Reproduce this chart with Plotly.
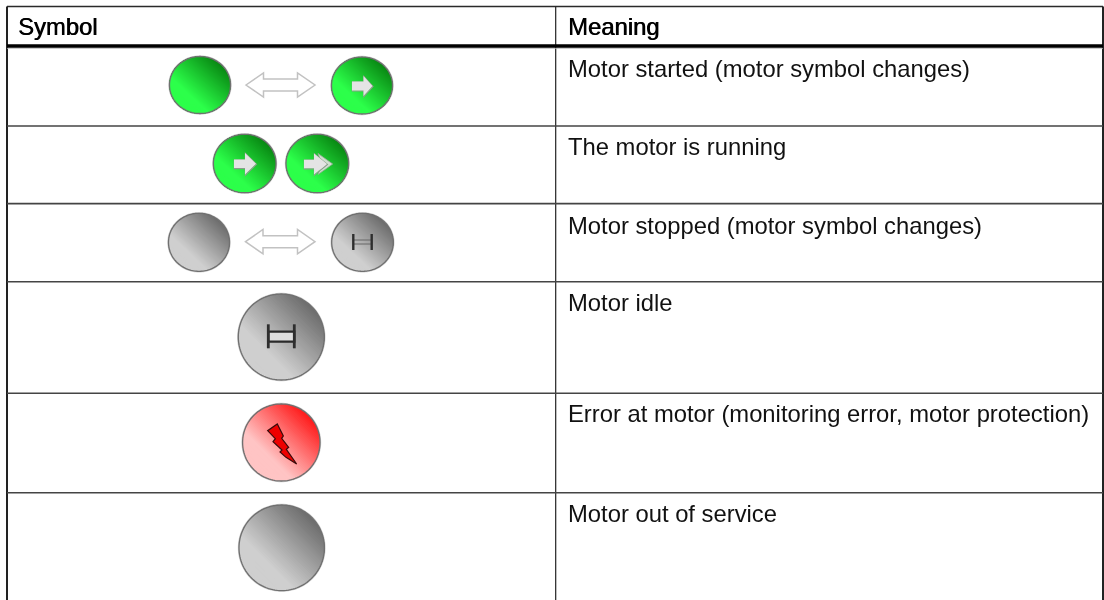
import numpy as np
import plotly.graph_objects as go

# ---- content -------------------------------------------------------------
headers = ["Symbol", "Meaning"]
meanings = [
    "Motor started (motor symbol changes)",
    "The motor is running",
    "Motor stopped (motor symbol changes)",
    "Motor idle",
    "Error at motor (monitoring error, motor protection)",
    "Motor out of service",
]

# ---- table geometry (pixel-based data axis) ------------------------------
W, H = 1104, 600
LEFT, DIV, RIGHT, TOP, HEAD = 7, 555.7, 1103, 6.5, 46
row_lines = [126, 203.6, 281.7, 393.3, 492.7]
header_cap_mid = [26.8, 26.8]
meaning_cap_mid = [68.5, 146.5, 225, 302.5, 413.5, 513.5]
COL0_X, COL1_X = 16, 565.5
FONT = "Liberation Sans, Arial, sans-serif"
FS = 23.8

PAL = {
    "green": ("#0a8a14", "#2cff4a"),
    "grey": ("#6e6e6e", "#cfcfcf"),
    "red": ("#ff1c1c", "#ffc4c4"),
}
# cx, cy, rx, ry, palette
circles = [
    (200, 85, 30.5, 28.5, "green"), (362, 85.5, 30.5, 28.5, "green"),
    (244.7, 163.5, 31.3, 29.2, "green"), (317.3, 163.5, 31.3, 29.2, "green"),
    (199, 242.3, 30.5, 29, "grey"), (362.5, 242.3, 30.8, 29, "grey"),
    (281.3, 337, 43, 43, "grey"),
    (281.3, 442.5, 38.7, 38.5, "red"),
    (281.7, 547.8, 42.7, 42.8, "grey"),
]


def hex2rgb(h):
    return np.array([int(h[i:i + 2], 16) for i in (1, 3, 5)], float)


def poly(pts):
    return "M " + " L ".join(f"{x:.2f},{y:.2f}" for x, y in pts) + " Z"


shapes = []


def add_path(pts, fill=None, line=None, lw=1.0):
    shapes.append(dict(type="path", path=poly(pts), xref="x", yref="y", layer="above",
                       fillcolor=fill if fill else "rgba(0,0,0,0)",
                       line=dict(color=line if line else "rgba(0,0,0,0)", width=lw if line else 0)))


def add_line(x0, y0, x1, y1, color, lw):
    shapes.append(dict(type="line", x0=x0, y0=y0, x1=x1, y1=y1, xref="x", yref="y", layer="above",
                       line=dict(color=color, width=lw)))


def add_circle(cx, cy, rx, ry, pal):
    dark, bright = (hex2rgb(c) for c in PAL[pal])
    th = np.linspace(0, 2 * np.pi, 120, endpoint=False)
    ux, uy = np.cos(th), np.sin(th)
    outline = [(cx + rx * a, cy + ry * b) for a, b in zip(ux, uy)]
    add_path(outline, line="#d0d0d0", lw=2.4)
    n = 48
    add_path(outline, fill="rgb(%d,%d,%d)" % tuple(dark))
    for i in range(1, n):
        t0 = -1 + 2 * i / n
        f = min(1.0, (t0 + 1) / 1.45) ** 1.0
        col = dark + (bright - dark) * f
        # circular segment beyond the chord at t0, perpendicular to the lower-left direction
        half = np.arccos(np.clip(t0, -1, 1))
        a = np.linspace(-half, half, 40) + 3 * np.pi / 4
        pts = [(cx + rx * np.cos(v), cy + ry * np.sin(v)) for v in a]
        add_path(pts, fill="rgb(%d,%d,%d)" % tuple(col))
    add_path(outline, line="#707070", lw=1.3)


def double_arrow(x0, x1, cy, neck, hh, sh):
    pts = [(x0, cy), (x0 + neck, cy - hh), (x0 + neck, cy - sh), (x1 - neck, cy - sh),
           (x1 - neck, cy - hh), (x1, cy), (x1 - neck, cy + hh), (x1 - neck, cy + sh),
           (x0 + neck, cy + sh), (x0 + neck, cy + hh)]
    add_path(pts, fill="#ffffff", line="#c2c2c2", lw=1.5)


def right_arrow(x0, neck, tip, cy, hh, sh, fill="#e4e4e4"):
    pts = [(x0, cy - sh), (neck, cy - sh), (neck, cy - hh), (tip, cy), (neck, cy + hh), (neck, cy + sh), (x0, cy + sh)]
    add_path([(x + 0.4, y + 0.5) for x, y in pts], line="#8c9c8c", lw=1.2)
    add_path(pts, fill=fill)


def h_icon(x0, x1, y0, y1, by0, by1, lw, box=True):
    if box:
        add_path([(x0, by0), (x1, by0), (x1, by1), (x0, by1)], fill="#dedede", line="#2a2a2a", lw=2.2)
    else:
        add_line(x0, (y0 + y1) / 2 - 2, x1, (y0 + y1) / 2 - 2, "#666666", 1)
        add_line(x0, (y0 + y1) / 2 + 2, x1, (y0 + y1) / 2 + 2, "#666666", 1)
    add_line(x0, y0, x0, y1, "#2e2e2e", lw)
    add_line(x1, y0, x1, y1, "#2e2e2e", lw)


# ---- table lines ---------------------------------------------------------
add_line(LEFT, TOP, RIGHT, TOP, "#2a2a2a", 1.5)
add_line(LEFT, TOP, LEFT, H, "#222222", 2)
add_line(RIGHT, TOP, RIGHT, H, "#222222", 2)
add_line(DIV, TOP, DIV, H, "#222222", 1.2)
add_line(LEFT, HEAD + 2.2, RIGHT, HEAD + 2.2, "#b5b5b5", 1)
add_line(LEFT, HEAD, RIGHT, HEAD, "#000000", 3.6)
for y in row_lines:
    add_line(LEFT, y, RIGHT, y, "#444444", 1.6)

# ---- symbols -------------------------------------------------------------
for c in circles:
    add_circle(*c)

double_arrow(246, 315, 85, 17.5, 12, 6)
double_arrow(245.5, 315, 241.7, 17.5, 12.2, 6)

right_arrow(352, 363.5, 372.5, 86, 10, 4.4)
right_arrow(234, 245, 256, 163.8, 10.8, 4.3)
# running, double-headed arrow
add_path([(318, 153.5), (332.7, 164), (318, 174.5), (322, 164)], fill="#cfe0cf", line="#98a898", lw=0.8)
right_arrow(304, 314, 327, 164, 10.5, 4.3)

h_icon(353.3, 371.7, 234, 250, 0, 0, 2.4, box=False)
h_icon(268.3, 294.3, 324.3, 348.3, 331.7, 341.7, 2.8)

# lightning bolt, template pixels relative to the red circle centre
bolt_x = [-3.97, 2.03, 0.37, 7.37, 5.03, 15.37, 4.7, -1.3, 0.7, -8.3, -5.97, -13.63]
bolt_y = [-18.5, -6.5, -4.17, 4.83, 6.83, 21.5, 14.83, 9.5, 7.5, -0.83, -3.83, -11.83]
add_path([(281.3 + a, 442.5 + b) for a, b in zip(bolt_x, bolt_y)], fill="#ee0000", line="#3a0a0a", lw=1.2)

# ---- figure --------------------------------------------------------------
fig = go.Figure()
fig.add_trace(go.Scatter(x=[0, W], y=[0, H], mode="markers", marker=dict(opacity=0, size=1),
                         hoverinfo="skip", showlegend=False))

annotations = []
for text, x, y in zip(headers, [COL0_X, COL1_X], header_cap_mid):
    annotations.append(dict(x=x, y=y, xref="x", yref="y", text=text, showarrow=False, xanchor="left",
                            yanchor="middle", xshift=0,
                            font=dict(family=FONT, size=FS, color="#000000", shadow="0.6px 0 0 #000000")))
for text, y in zip(meanings, meaning_cap_mid):
    annotations.append(dict(x=COL1_X, y=y, xref="x", yref="y", text=text, showarrow=False, xanchor="left",
                            yanchor="middle", font=dict(family=FONT, size=FS, color="#111111")))

fig.update_layout(
    width=W, height=H, margin=dict(l=0, r=0, t=0, b=0, pad=0),
    paper_bgcolor="#ffffff", plot_bgcolor="#ffffff", showlegend=False,
    xaxis=dict(range=[0, W], visible=False, fixedrange=True),
    yaxis=dict(range=[H, 0], visible=False, fixedrange=True),
    shapes=shapes, annotations=annotations,
)
fig.write_html("out.html", config={"displayModeBar": False},
               post_script="document.body.style.margin='0';document.body.style.overflow='hidden';"
                           "document.documentElement.style.overflow='hidden';"
                           "document.querySelector('.plotly-graph-div').style.filter='blur(0.35px)';")
